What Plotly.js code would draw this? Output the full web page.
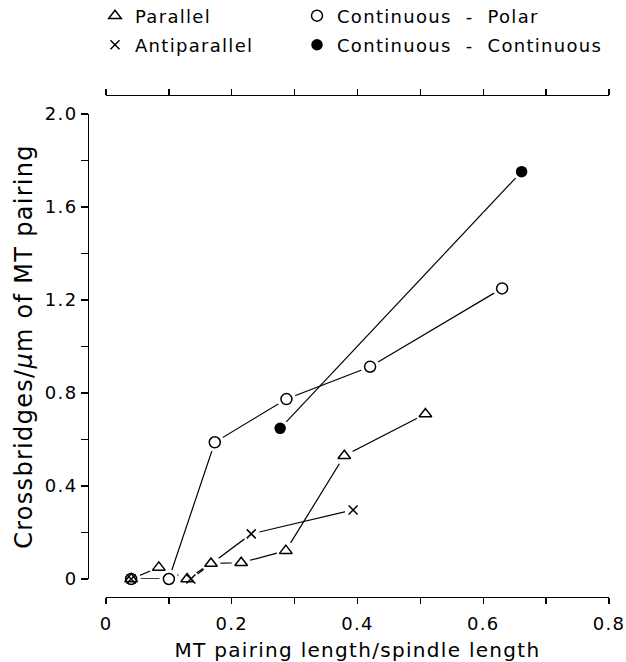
<!DOCTYPE html>
<html>
<head>
<meta charset="utf-8">
<script src="https://cdn.plot.ly/plotly-3.0.1.min.js"></script>
<style>
  html, body { margin: 0; padding: 0; background: #fff; }
  #chart { width: 626px; height: 662px; }
  svg text { letter-spacing: 1.3px; }
</style>
</head>
<body>
<div id="chart"></div>
<script>
// ---- data ----
const parallelX = [0.04, 0.084, 0.129, 0.167, 0.215, 0.286, 0.379, 0.508];
const parallelY = [0.00, 0.050, 0.000, 0.067, 0.070, 0.122, 0.530, 0.710];

const antiX = [0.04, 0.135, 0.231, 0.393];
const antiY = [0.00, 0.000, 0.194, 0.297];

const polarX = [0.04, 0.100, 0.173, 0.287, 0.420, 0.630];
const polarY = [0.00, 0.000, 0.588, 0.774, 0.913, 1.250];

const contX = [0.277, 0.661];
const contY = [0.648, 1.752];

const seriesNames = ['Parallel', 'Antiparallel', 'Continuous\u00a0\u00a0-\u00a0\u00a0Polar', 'Continuous\u00a0\u00a0-\u00a0\u00a0Continuous'];

const xTickVals = [0, 0.2, 0.4, 0.6, 0.8];
const xTickText = ['0', '0.2', '0.4', '0.6', '0.8'];
const yTickVals = [0, 0.4, 0.8, 1.2, 1.6, 2.0];
const yTickText = ['0', '0.4', '0.8', '1.2', '1.6', '2.0'];
const topTickVals = [0, 0.1, 0.2, 0.3, 0.4, 0.5, 0.6, 0.7, 0.8];

// ---- styling ----
const FONT = 'DejaVu Sans, Verdana, sans-serif';
const ink = '#000';
const series = [
  {x: parallelX, y: parallelY, name: seriesNames[0], symbol: 'triangle-up-open', size: 11, legend: 'legend'},
  {x: antiX, y: antiY, name: seriesNames[1], symbol: 'x-thin-open', size: 9, legend: 'legend3'},
  {x: polarX, y: polarY, name: seriesNames[2], symbol: 'circle-open', size: 11, legend: 'legend2'},
  {x: contX, y: contY, name: seriesNames[3], symbol: 'circle', size: 10, legend: 'legend4'}
];

const traces = [];
series.forEach(s => traces.push({
  type: 'scatter', mode: 'lines', x: s.x, y: s.y, showlegend: false,
  line: {color: ink, width: 1.2}, hoverinfo: 'skip', cliponaxis: false
}));
series.forEach(s => traces.push({
  type: 'scatter', mode: 'markers', x: s.x, y: s.y, showlegend: false,
  marker: {symbol: 'circle', size: s.size + 8, color: '#fff', line: {width: 0}},
  hoverinfo: 'skip', cliponaxis: false
}));
series.forEach(s => traces.push({
  type: 'scatter', mode: 'markers', x: s.x, y: s.y, name: s.name, legend: s.legend,
  marker: {symbol: s.symbol, size: s.size, color: ink, line: {color: ink, width: 1.5}},
  cliponaxis: false
}));
// empty trace so the top frame axis (x2/y2) subplot is created
traces.push({type: 'scatter', mode: 'markers', x: [], y: [], xaxis: 'x2', yaxis: 'y2', showlegend: false, hoverinfo: 'skip'});

const L = 88, R = 609, T = 96, B = 597, W = 626, H = 662;
const pw = R - L, ph = B - T;
const px2x = p => (p - L) / pw;
const py2y = p => (B - p) / ph;

const legendBase = {
  bgcolor: 'rgba(0,0,0,0)', borderwidth: 0, font: {family: FONT, size: 18, color: ink},
  xanchor: 'left', yanchor: 'middle', orientation: 'v'
};

const axisLine = {showgrid: false, zeroline: false, showline: true, linecolor: ink, linewidth: 1.3};

const layout = {
  width: W, height: H,
  margin: {l: L, r: W - R, t: T, b: H - B, pad: 0, autoexpand: false},
  paper_bgcolor: '#fff', plot_bgcolor: 'rgba(0,0,0,0)',
  font: {family: FONT, size: 18, color: ink},
  xaxis: Object.assign({}, axisLine, {
    domain: [px2x(106), 1], range: [0, 0.8], anchor: 'free', position: 0,
    tickmode: 'array', tickvals: xTickVals, ticktext: xTickText,
    ticks: 'outside', ticklen: 6, tickwidth: 1.3, tickcolor: ink, ticklabelstandoff: 4,
    minor: {tickmode: 'linear', tick0: 0, dtick: 0.1, ticks: 'outside', ticklen: 6, tickwidth: 1.3, tickcolor: ink, showgrid: false},
    tickfont: {family: FONT, size: 18, color: ink},
    title: {text: 'MT pairing length/spindle length', font: {family: FONT, size: 20, color: ink}, standoff: 11}
  }),
  yaxis: Object.assign({}, axisLine, {
    domain: [py2y(579), py2y(114)], range: [0, 2.0], anchor: 'free', position: 0,
    tickmode: 'array', tickvals: yTickVals, ticktext: yTickText,
    ticks: 'outside', ticklen: 7, tickwidth: 1.3, tickcolor: ink,
    minor: {tickmode: 'linear', tick0: 0, dtick: 0.2, ticks: 'outside', ticklen: 7, tickwidth: 1.3, tickcolor: ink, showgrid: false},
    tickfont: {family: FONT, size: 18, color: ink},
    title: {text: 'Crossbridges/<i>μ</i>m of MT pairing', font: {family: FONT, size: 24, color: ink}, standoff: 4}
  }),
  // top frame axis (no labels), on its own full-height helper subplot
  xaxis2: Object.assign({}, axisLine, {
    domain: [px2x(106), 1], range: [0, 0.8], anchor: 'y2', side: 'top',
    tickmode: 'array', tickvals: topTickVals, showticklabels: false,
    ticks: 'outside', ticklen: 6, tickwidth: 1.3, tickcolor: ink
  }),
  yaxis2: {domain: [0, 1], range: [0, 1], anchor: 'x2', showline: false, showticklabels: false, ticks: '', showgrid: false, zeroline: false},
  legend:  Object.assign({}, legendBase, {x: px2x(95),  y: py2y(16)}),
  legend2: Object.assign({}, legendBase, {x: px2x(297), y: py2y(16)}),
  legend3: Object.assign({}, legendBase, {x: px2x(95),  y: py2y(45)}),
  legend4: Object.assign({}, legendBase, {x: px2x(297), y: py2y(45)}),
  showlegend: true
};

Plotly.newPlot('chart', traces, layout, {displayModeBar: false, staticPlot: true});
</script>
</body>
</html>
